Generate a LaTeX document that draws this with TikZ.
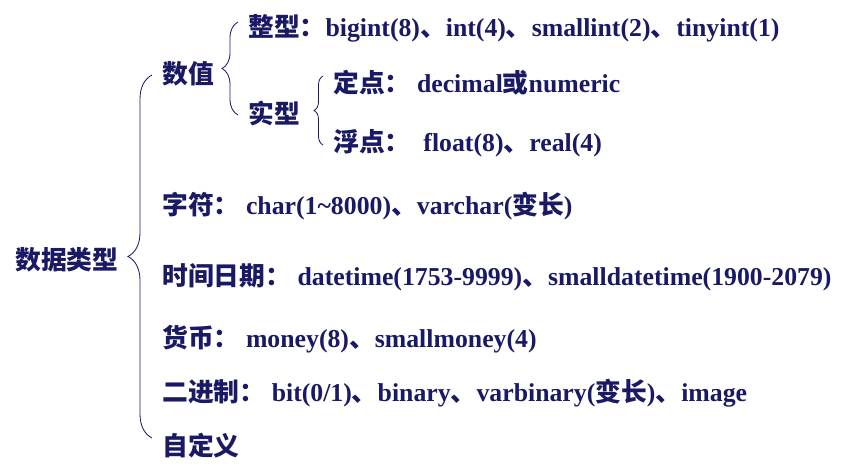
\documentclass[tikz,border=0pt]{standalone}
\usepackage{fontspec}
\setmainfont{Liberation Serif}
\newfontfamily\cjk{Noto Sans CJK SC}
\usetikzlibrary{decorations.pathreplacing}
\definecolor{navy}{RGB}{25,25,102}
\newcommand{\zh}[1]{{\cjk #1}}

\begin{document}
\begin{tikzpicture}[x=0.03cm, y=-0.03cm,
  item/.style={anchor=west, inner sep=0pt, text=navy, font=\bfseries\fontsize{22}{26}\selectfont},
  curly/.style={draw=navy, line width=0.7pt, decorate, decoration={brace, amplitude=#1}}]
  \useasboundingbox (0,0) rectangle (846,475);
  % labels
  \node[item] (type) at (15,260) {\zh{数据类型}};
  \node[item] (num) at (162,74) {\zh{数值}};
  \node[item] (int) at (248,28) {\zh{整型：}bigint(8)\zh{、}int(4)\zh{、}smallint(2)\zh{、}tinyint(1)};
  \node[item] (real) at (248,113) {\zh{实型}};
  \node[item] (fix) at (333,83) {\zh{定点：} decimal\zh{或}numeric};
  \node[item] (flt) at (333,143) {\zh{浮点：}\ \ float(8)\zh{、}real(4)};
  \node[item] (chr) at (162,206) {\zh{字符：} char(1\char`~8000)\zh{、}varchar(\zh{变长})};
  \node[item] (date) at (162,277) {\zh{时间日期：} datetime(1753-9999)\zh{、}smalldatetime(1900-2079)};
  \node[item] (money) at (162,339) {\zh{货币：} money(8)\zh{、}smallmoney(4)};
  \node[item] (bin) at (162,393) {\zh{二进制：} bit(0/1)\zh{、}binary\zh{、}varbinary(\zh{变长})\zh{、}image};
  \node[item] (udt) at (162,446) {\zh{自定义}};
  % braces
  \coordinate (b1t) at (152,75);
  \coordinate (b1b) at (152,438);
  \coordinate (b2t) at (238,22);
  \coordinate (b2b) at (238,115);
  \coordinate (b3t) at (323,76);
  \coordinate (b3b) at (323,145);
  \draw[curly=0.72cm] (b1b) -- (b1t);
  \draw[curly=0.48cm] (b2b) -- (b2t);
  \draw[curly=0.27cm] (b3b) -- (b3t);
\end{tikzpicture}
\end{document}
